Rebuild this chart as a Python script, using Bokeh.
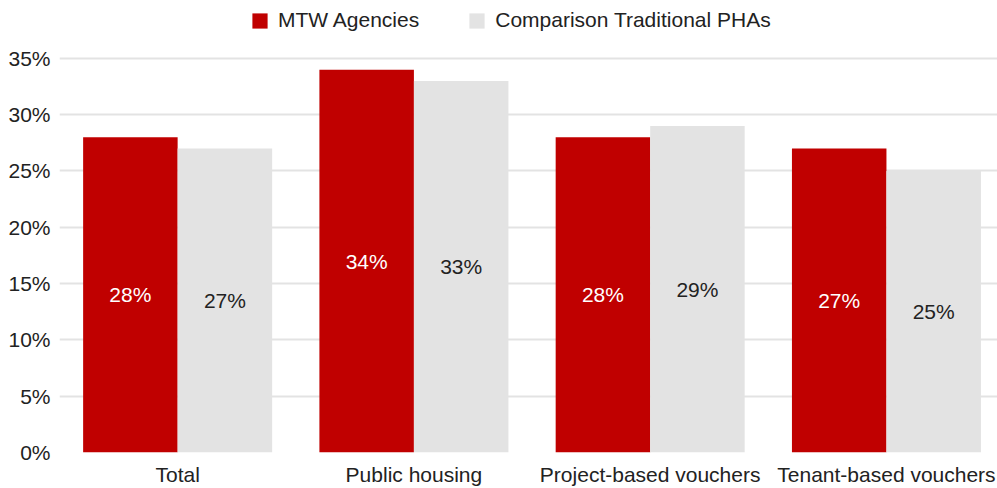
from bokeh.plotting import figure
from bokeh.models import ColumnDataSource, FixedTicker, PrintfTickFormatter, Legend, LegendItem, Range1d
from bokeh.core.properties import value
from bokeh.transform import dodge
from bokeh.embed import file_html
from bokeh.resources import INLINE

categories = ["Total", "Public housing", "Project-based vouchers", "Tenant-based vouchers"]
mtw = [28, 34, 28, 27]
comparison = [27, 33, 29, 25]
series_names = ["MTW Agencies", "Comparison Traditional PHAs"]
y_ticks = [0, 5, 10, 15, 20, 25, 30, 35]

RED = "#C00000"
GRAY = "#E3E3E3"
FONT = "Liberation Sans"
FS = "21px"

xs = list(range(len(categories)))
src = ColumnDataSource(dict(
    x=xs,
    mtw=mtw,
    comp=comparison,
    mtw_mid=[v / 2 for v in mtw],
    comp_mid=[v / 2 for v in comparison],
    mtw_lab=[f"{v}%" for v in mtw],
    comp_lab=[f"{v}%" for v in comparison],
))

p = figure(width=997, height=488, output_backend="svg", toolbar_location=None,
           x_range=Range1d(-0.5, 3.47), y_range=Range1d(0, 40.14),
           min_border_left=59, min_border_right=0, min_border_top=0, min_border_bottom=35)
p.outline_line_color = None
p.background_fill_color = "white"
p.border_fill_color = "white"

r1 = p.vbar(x=dodge("x", -0.2), top="mtw", width=0.4, source=src, fill_color=RED, line_color=None)
r2 = p.vbar(x=dodge("x", 0.2), top="comp", width=0.4, source=src, fill_color=GRAY, line_color=None)

p.text(x=dodge("x", -0.2), y="mtw_mid", text="mtw_lab", source=src, text_color="white",
       text_font=value(FONT), text_font_size=FS, text_align="center", text_baseline="middle")
p.text(x=dodge("x", 0.2), y="comp_mid", text="comp_lab", source=src, text_color="#222222",
       text_font=value(FONT), text_font_size=FS, text_align="center", text_baseline="middle")

p.xgrid.grid_line_color = None
p.ygrid.grid_line_color = "#E3E3E3"
p.ygrid.grid_line_width = 2
p.ygrid.ticker = FixedTicker(ticks=y_ticks)

p.yaxis.ticker = FixedTicker(ticks=y_ticks)
p.yaxis.formatter = PrintfTickFormatter(format="%d%%")
p.xaxis.ticker = FixedTicker(ticks=xs)
p.xaxis.major_label_overrides = {i: c for i, c in enumerate(categories)}
for ax in (p.xaxis, p.yaxis):
    ax.axis_line_color = None
    ax.major_tick_line_color = None
    ax.minor_tick_line_color = None
    ax.major_tick_out = 0
    ax.major_tick_in = 0
    ax.major_label_text_font = FONT
    ax.major_label_text_font_size = FS
    ax.major_label_text_color = "#222222"
p.yaxis.major_label_standoff = 9
p.xaxis.major_label_standoff = 10

legend = Legend(items=[LegendItem(label=series_names[0], renderers=[r1]),
                       LegendItem(label=series_names[1], renderers=[r2])],
                orientation="horizontal", location=(191, 420),
                glyph_width=19, glyph_height=19, label_height=24, label_standoff=9, spacing=48,
                padding=0, margin=0, border_line_color=None, background_fill_alpha=0,
                label_text_font=FONT, label_text_font_size=FS, label_text_color="#222222")
p.add_layout(legend)

open("out.html", "w").write(file_html(p, INLINE))
